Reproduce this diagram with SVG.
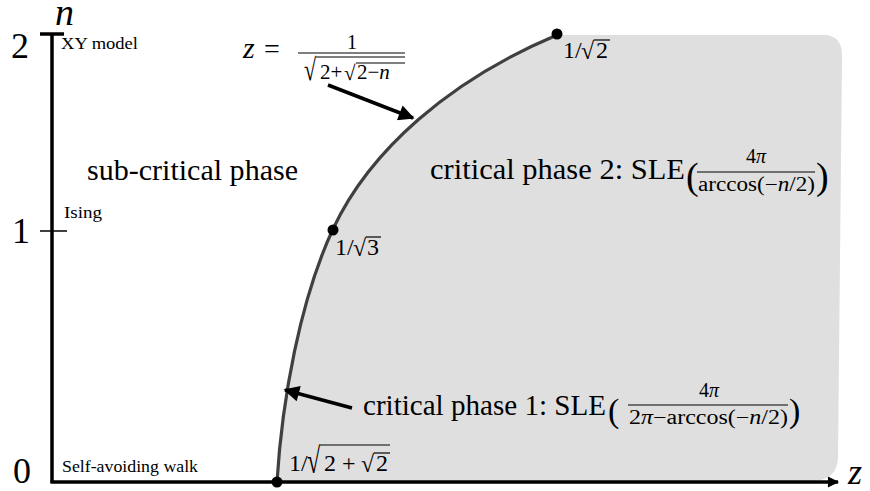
<svg xmlns="http://www.w3.org/2000/svg" width="870" height="491" viewBox="0 0 870 491">
<defs>
<style>
.t{font-family:"Liberation Serif","Times New Roman",serif;fill:#000}
.i{font-style:italic}
.ov{stroke:#000;stroke-width:1.2;fill:none}
.dot{fill:#000}
</style>
<marker id="ah" viewBox="0 0 10 10" refX="9" refY="5" markerWidth="5" markerHeight="4.5" markerUnits="strokeWidth" orient="auto">
<path d="M0,0 L10,5 L0,10 Z" fill="#000"/>
</marker>
<marker id="axh" viewBox="0 0 10 10" refX="9" refY="5" markerWidth="4.5" markerHeight="3.2" markerUnits="strokeWidth" orient="auto">
<path d="M0,0 L10,5 L0,10 Z" fill="#000"/>
</marker>
</defs>
<rect width="870" height="491" fill="#fff"/>
<g id="region">
<path d="M277,482 C282,400 300,300 333,229 C370,150 450,80 557,35 L825,35 Q843,36 842,58 L838,458 Q837,479 815,481 L277,482 Z" fill="#dfdfdf"/>
</g>
<g id="axes">
<line x1="52" y1="33" x2="52" y2="483" stroke="#000" stroke-width="3.5"/>
<line x1="50.5" y1="482" x2="838" y2="482" stroke="#000" stroke-width="3.5" marker-end="url(#axh)"/>
<line x1="40" y1="34" x2="64" y2="34" stroke="#000" stroke-width="3.5"/>
<line x1="40" y1="231" x2="67" y2="231" stroke="#000" stroke-width="1.5"/>
<text class="t" x="11" y="58" font-size="36">2</text>
<text class="t" x="12" y="243" font-size="36">1</text>
<text class="t" x="13" y="483" font-size="36">0</text>
<text class="t i" x="55" y="25" font-size="38">n</text>
<text class="t i" x="848" y="484" font-size="36">z</text>
</g>
<g id="connectors">
<path id="curve" d="M277,482 C282,400 300,300 333,229 C370,150 450,80 557,35" fill="none" stroke="#404040" stroke-width="3.2"/>
<line x1="328" y1="85" x2="413" y2="118" stroke="#000" stroke-width="3.5" marker-end="url(#ah)"/>
<line x1="352" y1="408" x2="285" y2="390" stroke="#000" stroke-width="3.5" marker-end="url(#ah)"/>
</g>
<g id="points">
<circle class="dot" cx="277" cy="482" r="5.5"/>
<circle class="dot" cx="333" cy="230" r="5.5"/>
<circle class="dot" cx="557" cy="34" r="5.5"/>
</g>
<g id="label-xy">
<text class="t" x="61" y="49" font-size="16" textLength="77" lengthAdjust="spacingAndGlyphs">XY model</text>
</g>
<g id="label-ising">
<text class="t" x="64" y="218" font-size="16" textLength="38" lengthAdjust="spacingAndGlyphs">Ising</text>
</g>
<g id="label-saw">
<text class="t" x="62" y="472" font-size="17" textLength="136" lengthAdjust="spacingAndGlyphs">Self-avoiding walk</text>
</g>
<g id="label-subcritical">
<text class="t" x="87" y="180" font-size="30" textLength="211" lengthAdjust="spacingAndGlyphs">sub-critical phase</text>
</g>
<g id="label-crit2">
<text class="t" x="430" y="179" font-size="30" textLength="255" lengthAdjust="spacingAndGlyphs">critical phase 2: SLE</text>
<text class="t" x="686" y="189" font-size="38">(</text>
<text class="t" x="756" y="163" font-size="20" text-anchor="middle">4<tspan class="i">π</tspan></text>
<line x1="697" y1="172" x2="815" y2="172" class="ov"/>
<text class="t" x="698" y="191" font-size="20" textLength="117" lengthAdjust="spacingAndGlyphs">arccos(−<tspan class="i">n</tspan>/2)</text>
<text class="t" x="816" y="189" font-size="38">)</text>
</g>
<g id="label-crit1">
<text class="t" x="363" y="415" font-size="29" textLength="243" lengthAdjust="spacingAndGlyphs">critical phase 1: SLE</text>
<text class="t" x="608" y="422" font-size="34">(</text>
<text class="t" x="709" y="397" font-size="20" text-anchor="middle">4<tspan class="i">π</tspan></text>
<line x1="628" y1="405" x2="788" y2="405" class="ov"/>
<text class="t" x="629" y="424" font-size="20" textLength="159" lengthAdjust="spacingAndGlyphs">2<tspan class="i">π</tspan>−arccos(−<tspan class="i">n</tspan>/2)</text>
<text class="t" x="789" y="422" font-size="34">)</text>
</g>
<g id="label-formula">
<text class="t i" x="243" y="58" font-size="30">z</text>
<text class="t" x="264" y="58" font-size="28">=</text>
<text class="t" x="352" y="49" font-size="20" text-anchor="middle">1</text>
<line x1="298" y1="53" x2="405" y2="53" class="ov" stroke-width="1.5"/>
<text class="t" transform="translate(304,80) scale(1,1.4)" font-size="22">√</text>
<line x1="316" y1="57" x2="405" y2="57" class="ov"/>
<text class="t" x="320" y="79" font-size="21">2+</text>
<text class="t" x="344" y="80" font-size="21">√</text>
<line x1="356" y1="63" x2="405" y2="63" class="ov"/>
<text class="t" x="357" y="79" font-size="21">2−<tspan class="i">n</tspan></text>
</g>
<g id="label-p3">
<text class="t" x="335" y="255" font-size="24">1/</text>
<text class="t" x="353" y="256" font-size="24">√</text>
<line x1="366" y1="237" x2="381" y2="237" class="ov"/>
<text class="t" x="367" y="255" font-size="24">3</text>
</g>
<g id="label-p2">
<text class="t" x="563" y="58" font-size="24">1/</text>
<text class="t" x="581" y="59" font-size="24">√</text>
<line x1="594" y1="40" x2="610" y2="40" class="ov"/>
<text class="t" x="596" y="58" font-size="24">2</text>
</g>
<g id="label-p1">
<text class="t" x="289" y="471" font-size="24">1/</text>
<text class="t" transform="translate(307,473) scale(1,1.5)" font-size="24">√</text>
<line x1="320" y1="445" x2="390" y2="445" class="ov"/>
<text class="t" x="324" y="471" font-size="24">2 +</text>
<text class="t" x="361" y="472" font-size="24">√</text>
<line x1="374" y1="453" x2="390" y2="453" class="ov"/>
<text class="t" x="376" y="471" font-size="24">2</text>
</g>
</svg>
